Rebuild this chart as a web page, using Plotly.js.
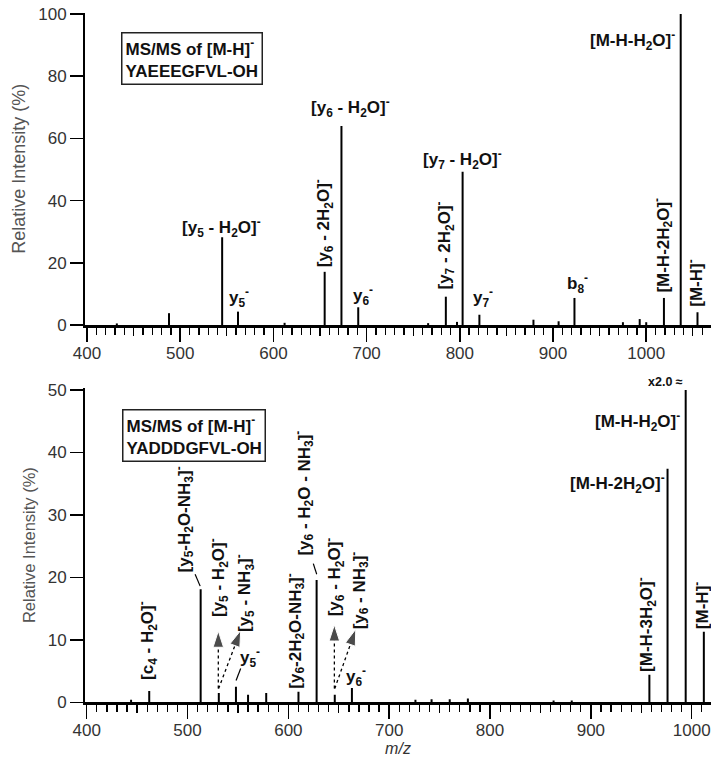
<!DOCTYPE html>
<html>
<head>
<meta charset="utf-8">
<script src="https://cdn.plot.ly/plotly-3.0.1.min.js"></script>
<style>html,body{margin:0;padding:0;background:#fff;}#chart{width:711px;height:770px;}</style>
</head>
<body>
<div id="chart"></div>
<script>
// ---- Data ----
// Top panel: YAEEEGFVL-OH, MS/MS of [M-H]-
const topMz  = [432, 488, 545, 562, 612, 655, 673, 691, 766, 785, 797, 803, 821, 879, 906, 923, 975, 993, 1000, 1019, 1037, 1055];
const topInt = [0.5, 3.8, 28.2, 4.3, 0.7, 17.1, 64, 5.7, 0.6, 9.1, 1.0, 49.3, 3.3, 1.7, 1.2, 8.7, 0.9, 1.9, 0.9, 8.7, 100, 4.1];
// Bottom panel: YADDDGFVL-OH, MS/MS of [M-H]-
const botMz  = [444, 462, 513, 531, 548, 560, 578, 610, 628, 646, 663, 726, 742, 760, 778, 863, 881, 958, 976, 994, 1012];
const botInt = [0.4, 1.8, 18.1, 1.5, 2.5, 1.2, 1.5, 1.7, 19.6, 1.2, 2.3, 0.4, 0.5, 0.5, 0.6, 0.3, 0.3, 4.4, 37.4, 50, 11.3];

const topYTicks = [0, 20, 40, 60, 80, 100];
const botYTicks = [0, 10, 20, 30, 40, 50];
const xMajorTicks = [400, 500, 600, 700, 800, 900, 1000];
const xMidTicks = [450, 550, 650, 750, 850, 950, 1050];

// Peak labels: [text, x (m/z), y (%), vertical?]
const topLabels = [
  ['[y<sub>5</sub> - H<sub>2</sub>O]<sup>-</sup>', 543.8, 31.2, false],
  ['y<sub>5</sub><sup>-</sup>', 563.5, 8.7, false],
  ['[y<sub>6</sub> - 2H<sub>2</sub>O]<sup>-</sup>', 653.5, 32.8, true],
  ['[y<sub>6</sub> - H<sub>2</sub>O]<sup>-</sup>', 682.2, 69.8, false],
  ['y<sub>6</sub><sup>-</sup>', 696.5, 9.6, false],
  ['[y<sub>7</sub> - 2H<sub>2</sub>O]<sup>-</sup>', 783.5, 25.7, true],
  ['[y<sub>7</sub> - H<sub>2</sub>O]<sup>-</sup>', 803.4, 53.1, false],
  ['y<sub>7</sub><sup>-</sup>', 825, 8.7, false],
  ['b<sub>8</sub><sup>-</sup>', 926, 13.5, false],
  ['[M-H-2H<sub>2</sub>O]<sup>-</sup>', 1017.5, 25.7, true],
  ['[M-H-H<sub>2</sub>O]<sup>-</sup>', 984.8, 91.6, false],
  ['[M-H]<sup>-</sup>', 1052, 13.5, true]
];
const botLabels = [
  ['[c<sub>4</sub> - H<sub>2</sub>O]<sup>-</sup>', 460.3, 9.9, true],
  ['[y<sub>5</sub>-H<sub>2</sub>O-NH<sub>3</sub>]<sup>-</sup>', 497, 29.2, true],
  ['[y<sub>5</sub> - H<sub>2</sub>O]<sup>-</sup>', 530.2, 19.9, true],
  ['[y<sub>5</sub> - NH<sub>3</sub>]<sup>-</sup>', 557, 17.5, true],
  ['y<sub>5</sub><sup>-</sup>', 561.5, 7.1, false],
  ['[y<sub>6</sub>-2H<sub>2</sub>O-NH<sub>3</sub>]<sup>-</sup>', 606.2, 11.4, true],
  ['[y<sub>6</sub> - H<sub>2</sub>O - NH<sub>3</sub>]<sup>-</sup>', 615, 33.5, true],
  ['[y<sub>6</sub> - H<sub>2</sub>O]<sup>-</sup>', 645.8, 20.1, true],
  ['[y<sub>6</sub> - NH<sub>3</sub>]<sup>-</sup>', 670.5, 18.0, true],
  ['y<sub>6</sub><sup>-</sup>', 667, 4.1, false],
  ['[M-H-3H<sub>2</sub>O]<sup>-</sup>', 955.7, 12.4, true],
  ['[M-H-2H<sub>2</sub>O]<sup>-</sup>', 926.4, 35.1, false],
  ['[M-H-H<sub>2</sub>O]<sup>-</sup>', 946.3, 44.9, false],
  ['[M-H]<sup>-</sup>', 1009.2, 15.4, true]
];
// Leader lines (bottom): [x0, y0, x1, y1]
const botLeaders = [
  [507.5, 20.5, 512.5, 18.6],
  [548.1, 3.5, 552.7, 5.4],
  [624.7, 22.2, 628.1, 20.5]
];
// Dotted arrows (bottom): [tailX, tailY, tipX, tipY]
const botArrows = [
  [530.5, 2.2, 530.5, 11.4],
  [530.8, 2.2, 552.7, 11.5],
  [645.6, 2.2, 645.6, 12.4],
  [646.0, 2.2, 666.8, 11.7]
];

// ---- build stick spectra ----
function sticks(mz, it) {
  const x = [], y = [];
  for (let i = 0; i < mz.length; i++) {
    x.push(mz[i], mz[i], null);
    y.push(0, it[i], null);
  }
  return {x, y};
}
const ts = sticks(topMz, topInt);
const bs = sticks(botMz, botInt);

const FONT = 'Liberation Sans, Arial, Helvetica, sans-serif';
const traces = [
  {x: ts.x, y: ts.y, xaxis: 'x', yaxis: 'y', type: 'scatter', mode: 'lines',
   line: {color: '#000', width: 2}, hoverinfo: 'skip', showlegend: false},
  {x: bs.x, y: bs.y, xaxis: 'x2', yaxis: 'y2', type: 'scatter', mode: 'lines',
   line: {color: '#000', width: 2}, hoverinfo: 'skip', showlegend: false},
  {x: [], y: [], xaxis: 'x3', yaxis: 'y', type: 'scatter', showlegend: false},
  {x: [], y: [], xaxis: 'x4', yaxis: 'y2', type: 'scatter', showlegend: false}
];
botArrows.forEach(a => {
  traces.push({x: [a[0], a[2]], y: [a[1], a[3]], xaxis: 'x2', yaxis: 'y2', type: 'scatter',
    mode: 'lines+markers', line: {color: '#000', width: 1.3, dash: 'dot'},
    marker: {symbol: 'arrow', size: [0, 17], angleref: 'previous', color: '#000'},
    hoverinfo: 'skip', showlegend: false, cliponaxis: false});
});

const H = 770, W = 711;
const topDom = [1 - 325 / H, 1 - 12.5 / H];
const botDom = [1 - 702.3 / H, 1 - 388 / H];
const topXR = [397.85, 1069.5];
const botXR = [398.3, 1019.1];

const tickFont = {family: FONT, size: 17, color: '#333'};
function xMain(range, anchor, showTitle) {
  const ax = {
    domain: [0, 1], range: range, anchor: anchor, autorange: false,
    tickmode: 'array', tickvals: xMajorTicks, ticks: 'outside', ticklen: 14, tickwidth: 1.5,
    tickcolor: '#000', showline: true, linecolor: '#000', linewidth: 2.5, showgrid: false,
    zeroline: false, tickfont: tickFont, automargin: false, ticklabelstandoff: -3,
    minor: {tickmode: 'linear', tick0: 0, dtick: 10, ticks: 'outside', ticklen: 7, tickwidth: 1.3, tickcolor: '#000', showgrid: false}
  };
  if (showTitle) {
    ax.title = {text: '<i>m/z</i>', font: {family: FONT, size: 16, color: '#333'}, standoff: 2};
  }
  return ax;
}
function xMid(range, anchor, over) {
  return {domain: [0, 1], range: range, anchor: anchor, overlaying: over, autorange: false,
    tickmode: 'array', tickvals: xMidTicks, ticks: 'outside', ticklen: 10, tickwidth: 1.3,
    tickcolor: '#000', showticklabels: false, showline: false, showgrid: false, zeroline: false};
}
function yAx(dom, range, tv, titleSize) {
  return {domain: dom, range: range, anchor: 'x', autorange: false, tickmode: 'array', tickvals: tv,
    ticks: 'outside', ticklen: 13, tickwidth: 1.5, tickcolor: '#000', showline: true,
    linecolor: '#000', linewidth: 2, showgrid: false, zeroline: false, tickfont: tickFont,
    automargin: false,
    title: {text: 'Relative Intensity (%)', font: {family: FONT, size: titleSize, color: '#555'}, standoff: 8}};
}

const annotations = [];
const labFont = {family: FONT, size: 17, color: '#111'};
function addLabels(list, xr, yr) {
  list.forEach(l => {
    annotations.push({text: '<b>' + l[0] + '</b>', x: l[1], y: l[2], xref: xr, yref: yr,
      showarrow: false, textangle: l[3] ? -90 : 0, xanchor: 'center', yanchor: 'middle',
      font: labFont, borderpad: 0});
  });
}
addLabels(topLabels, 'x', 'y');
addLabels(botLabels, 'x2', 'y2');
annotations.push({text: '<b>x2.0 ≈</b>', x: 973.6, y: 1 - 382 / H, xref: 'x2', yref: 'paper', showarrow: false,
  xanchor: 'center', yanchor: 'middle', font: {family: FONT, size: 12.5, color: '#111'}});
annotations.push({text: '<b>MS/MS of [M-H]<sup>-</sup><br>YAEEEGFVL-OH</b>', x: 191.5 / W - 85 / W, y: 1 - 58.5 / H,
  xref: 'paper', yref: 'paper', showarrow: false, align: 'left', xanchor: 'center', yanchor: 'middle',
  font: {family: FONT, size: 17, color: '#111'}, bordercolor: '#222', borderwidth: 1.5, borderpad: 3});
annotations.push({text: '<b>MS/MS of [M-H]<sup>-</sup><br>YADDDGFVL-OH</b>', x: 193.5 / W - 85 / W, y: 1 - 435 / H,
  xref: 'paper', yref: 'paper', showarrow: false, align: 'left', xanchor: 'center', yanchor: 'middle',
  font: {family: FONT, size: 17, color: '#111'}, bordercolor: '#222', borderwidth: 1.5, borderpad: 3});

const shapes = botLeaders.map(s => ({type: 'line', xref: 'x2', yref: 'y2', x0: s[0], y0: s[1], x1: s[2], y1: s[3],
  line: {color: '#000', width: 1.2}}));

// paper x: plot area starts at 85 px, so convert to plot-area-relative coords
annotations.forEach(a => { if (a.xref === 'paper') a.x = a.x * W / (W - 85); });

const layout = {
  width: W, height: H, margin: {l: 85, r: 0, t: 0, b: 0, pad: 0},
  paper_bgcolor: '#fff', plot_bgcolor: 'rgba(0,0,0,0)',
  font: {family: FONT},
  showlegend: false,
  xaxis: xMain(topXR, 'y', false),
  yaxis: yAx(topDom, [0, 100.5], topYTicks, 18),
  xaxis2: xMain(botXR, 'y2', true),
  yaxis2: yAx(botDom, [0, 50.32], botYTicks, 16.5),
  xaxis3: xMid(topXR, 'y', 'x'),
  xaxis4: xMid(botXR, 'y2', 'x2'),
  annotations: annotations,
  shapes: shapes
};
layout.yaxis2.anchor = 'x2';

Plotly.newPlot('chart', traces, layout, {staticPlot: true, displayModeBar: false});
</script>
</body>
</html>
